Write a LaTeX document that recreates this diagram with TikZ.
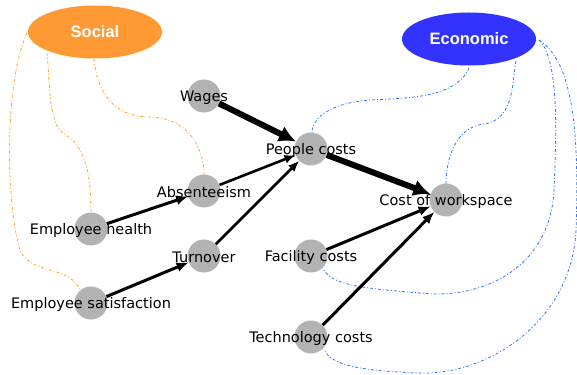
\documentclass[tikz,border=0pt]{standalone}
\usepackage{fontspec}
\setmainfont{DejaVu Sans}
\newfontfamily\headfont{Liberation Sans}
\usetikzlibrary{arrows.meta,shapes.geometric}
\definecolor{socialC}{RGB}{255,153,51}
\definecolor{econC}{RGB}{51,51,255}
\definecolor{orangeLine}{RGB}{255,165,40}
\definecolor{blueLine}{RGB}{50,120,255}
\definecolor{dotGrey}{RGB}{179,179,179}
\tikzset{
  dot/.style={circle,fill=dotGrey,minimum size=33pt,inner sep=0pt},
  lbl/.style={font=\fontsize{14.5}{16}\selectfont,inner sep=0pt,text=black,yshift=-1.5pt},
  cat/.style={ellipse,minimum width=134pt,minimum height=53pt,inner sep=0pt,text=white,font=\headfont\bfseries\fontsize{16.5}{18}\selectfont},
  thin arrow/.style={line width=3pt,-{Latex[length=12pt,width=10pt]}},
  mid arrow/.style={line width=2.6pt,-{Latex[length=11pt,width=9pt]}},
  thick arrow/.style={line width=6pt,-{Latex[length=17pt,width=17pt]}},
  soclink/.style={orangeLine,line width=0.8pt,dash pattern=on 3pt off 2pt on 1pt off 2pt},
  ecolink/.style={blueLine,line width=0.8pt,dash pattern=on 3pt off 2pt on 1pt off 2pt},
}
\begin{document}
\begin{tikzpicture}[x=1pt,y=-1pt]
\useasboundingbox (0,0) rectangle (577,374);
% category ellipses
\node[cat,fill=socialC] (social) at (95,32) {Social};
\node[cat,fill=econC] (econ) at (469,39) {Economic};
% grey dots
\node[dot] (wages) at (204,96) {};
\node[dot] (people) at (311,149) {};
\node[dot] (absent) at (204,191) {};
\node[dot] (health) at (91,229) {};
\node[dot] (turn) at (204,256) {};
\node[dot] (satis) at (91,303) {};
\node[dot] (cost) at (446,200) {};
\node[dot] (facil) at (311,256) {};
\node[dot] (tech) at (311,337) {};
% social links
\coordinate (s1) at (27,33);
\coordinate (s2) at (47,53);
\coordinate (s3) at (94,59);
\draw[soclink] (s1) .. controls (5,80) and (5,200) .. (20,250) .. controls (30,275) and (70,265) .. (80,290);
\draw[soclink] (s2) .. controls (50,80) and (48,128) .. (66,135) .. controls (90,150) and (91,190) .. (91,213);
\draw[soclink] (s3) .. controls (98,100) and (120,117) .. (150,117) .. controls (190,118) and (204,150) .. (204,175);
% economic links
\coordinate (e1) at (469,68);
\coordinate (e2) at (516,61);
\coordinate (e3) at (539,40);
\draw[ecolink] (e1) .. controls (455,100) and (400,98) .. (370,100) .. controls (330,103) and (312,118) .. (312,133);
\draw[ecolink] (e2) .. controls (512,80) and (515,120) .. (484,124) .. controls (455,127) and (446,160) .. (446,184);
\draw[ecolink] (e3) .. controls (560,60) and (556,140) .. (554,190) .. controls (550,270) and (480,300) .. (420,293) .. controls (360,288) and (330,285) .. (323,268);
\draw[ecolink] (e3) .. controls (570,60) and (580,120) .. (576,230) .. controls (572,320) and (490,375) .. (420,373) .. controls (360,371) and (330,365) .. (324,349);
% arrows
\draw[thick arrow] (wages) -- (people);
\draw[thick arrow] (people) -- (cost);
\draw[thin arrow] (health) -- (absent);
\draw[thin arrow] (satis) -- (turn);
\draw[mid arrow] (absent) -- (people);
\draw[mid arrow] (turn) -- (people);
\draw[thin arrow] (facil) -- (cost);
\draw[thin arrow] (tech) -- (cost);
% labels
\node[lbl] (lwages) at (wages) {Wages};
\node[lbl] (lpeople) at (people) {People costs};
\node[lbl] (labsent) at (absent) {Absenteeism};
\node[lbl] (lhealth) at (health) {Employee health};
\node[lbl] (lturn) at (turn) {Turnover};
\node[lbl] (lsatis) at (satis) {Employee satisfaction};
\node[lbl] (lcost) at (cost) {Cost of workspace};
\node[lbl] (lfacil) at (facil) {Facility costs};
\node[lbl] (ltech) at (tech) {Technology costs};
\end{tikzpicture}
\end{document}
